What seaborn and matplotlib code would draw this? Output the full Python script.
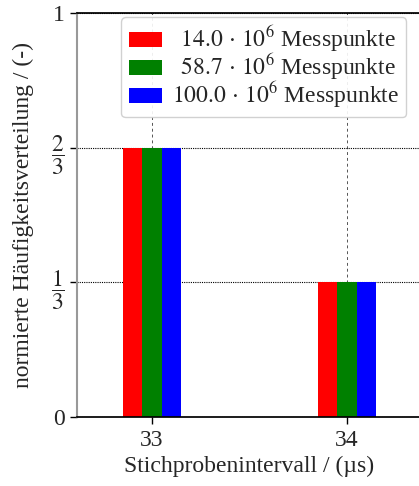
import pandas as pd
import matplotlib
matplotlib.use("Agg")
import matplotlib.pyplot as plt
import seaborn as sns

# data
intervals = [33, 34]
counts = ["14.0", "58.7", "100.0"]
shares = {
    "14.0": [2 / 3, 1 / 3],
    "58.7": [2 / 3, 1 / 3],
    "100.0": [2 / 3, 1 / 3],
}
colors = ["#ff0000", "#008000", "#0000ff"]

rows = []
for c in counts:
    pad = r"\enspace " if len(c) < 5 else ""
    for x, v in zip(intervals, shares[c]):
        rows.append({"interval": x, "share": v,
                     "label": r"$%s%s\,\cdot\,10^6$ Messpunkte" % (pad, c)})
df = pd.DataFrame(rows)

sns.set_theme(style="ticks")
plt.rcParams["font.family"] = ["Liberation Serif", "DejaVu Serif"]
plt.rcParams["mathtext.fontset"] = "stix"

fig = plt.figure(figsize=(4.19, 4.86), dpi=100)
ax = fig.add_axes([77 / 419, 69 / 486, 345 / 419, 404 / 486])

sns.barplot(data=df, x="interval", y="share", hue="label",
            palette=colors, native_scale=True, width=0.3,
            saturation=1, linewidth=0, ax=ax, zorder=2)

ax.set_xlim(32.615, 34.385)
ax.set_ylim(0, 1)
ax.set_xticks(intervals)
ax.set_xticklabels([str(i) for i in intervals], fontsize=17)
ax.set_yticks([0, 1 / 3, 2 / 3, 1])
ax.set_yticklabels(["0", r"$\dfrac{1}{3}$", r"$\dfrac{2}{3}$", "1"], fontsize=17)
ax.tick_params(axis="both", length=5, width=1, color="black", pad=4)

ax.xaxis.grid(True, linestyle=(0, (3, 3)), color="#555555", linewidth=0.7, zorder=0)
ax.yaxis.grid(True, linestyle=(0, (1, 1)), color="black", linewidth=0.8, zorder=0)

ax.spines["left"].set_color("#999999")
ax.spines["left"].set_linewidth(1.5)
ax.spines["bottom"].set_color("black")
ax.spines["top"].set_color("black")
ax.spines["right"].set_visible(False)

ax.set_xlabel("Stichprobenintervall / (µs)", fontsize=17, labelpad=4)
ax.set_ylabel("normierte Häufigkeitsverteilung / (-)", fontsize=17, labelpad=12)

ax.legend(loc="upper right", bbox_to_anchor=(0.975, 1.008), fontsize=17,
          frameon=True, fancybox=True, edgecolor="#cccccc", framealpha=0.9,
          handlelength=1.4, handleheight=0.6, borderaxespad=0.3,
          labelspacing=-0.1, handletextpad=0.45, borderpad=0.3)

fig.savefig("out.png", dpi=100)
